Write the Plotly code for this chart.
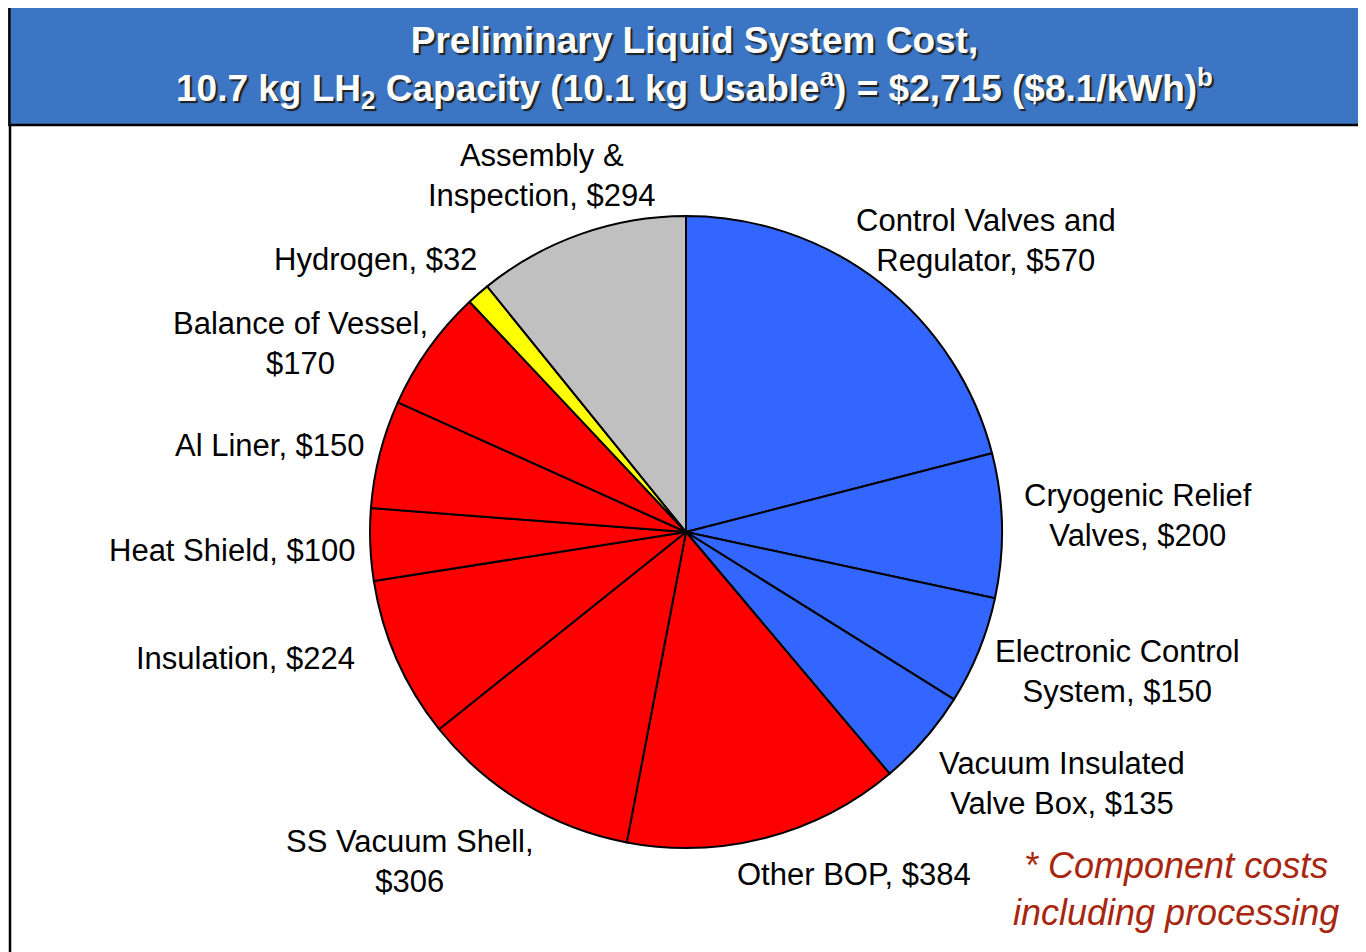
import plotly.graph_objects as go

# slice data, clockwise from 12 o'clock
components = ['Control Valves and Regulator', 'Cryogenic Relief Valves', 'Electronic Control System',
              'Vacuum Insulated Valve Box', 'Other BOP', 'SS Vacuum Shell', 'Insulation',
              'Heat Shield', 'Al Liner', 'Balance of Vessel', 'Hydrogen', 'Assembly & Inspection']
costs = [570, 200, 150, 135, 384, 306, 224, 100, 150, 170, 32, 294]
groups = ['bop', 'bop', 'bop', 'bop', 'vessel', 'vessel', 'vessel',
          'vessel', 'vessel', 'vessel', 'h2', 'assembly']

label_text = ['Control Valves and<br>Regulator, $570', 'Cryogenic Relief<br>Valves, $200',
              'Electronic Control<br>System, $150', 'Vacuum Insulated<br>Valve Box, $135',
              'Other BOP, $384', 'SS Vacuum Shell,<br>$306', 'Insulation, $224',
              'Heat Shield, $100', 'Al Liner, $150', 'Balance of Vessel,<br>$170',
              'Hydrogen, $32', 'Assembly &<br>Inspection, $294']

# label centres in page pixels (layout only)
label_pos = [(986, 240), (1138, 515), (1117, 671), (1062, 783), (854, 874), (410, 861),
             (245, 658), (232, 550), (270, 446), (300, 343), (375, 260), (542, 175)]

W, H = 1366, 952
OFF = 8  # page body margin
group_colors = {'bop': '#3366FF', 'vessel': '#FF0000', 'h2': '#FFFF00', 'assembly': '#C0C0C0'}
FONT = 'Liberation Sans, Arial'


def px(x, y):
    # page pixel -> paper coords
    return (x - OFF) / W, 1 - (y - OFF) / H


cx, cy, r = 686, 532, 316
x0, y1 = px(cx - r, cy - r)
x1, y0 = px(cx + r, cy + r)

fig = go.Figure(go.Pie(
    labels=components,
    values=costs,
    sort=False,
    direction='clockwise',
    rotation=0,
    textinfo='none',
    hoverinfo='label+value',
    marker=dict(colors=[group_colors[g] for g in groups], line=dict(color='black', width=2)),
    domain=dict(x=[x0, x1], y=[y0, y1]),
    showlegend=False,
))

for txt, (x, y) in zip(label_text, label_pos):
    ax, ay = px(x, y)
    fig.add_annotation(x=ax, y=ay, xref='paper', yref='paper', text=txt, showarrow=False,
                       font=dict(family=FONT, size=31, color='black'),
                       align='center', xanchor='center', yanchor='middle')

# title bar
bx0, by1 = px(8, 4)
_, by0 = px(0, 125)
fig.add_shape(type='rect', xref='paper', yref='paper', x0=bx0 + 0.001, x1=1.01, y0=by0, y1=by1,
              fillcolor='#3B75C4', line=dict(color='black', width=2.5))
lx, _ = px(10, 0)
fig.add_shape(type='line', xref='paper', yref='paper', x0=lx, x1=lx, y0=-0.01, y1=by0,
              line=dict(color='black', width=2.5))

tx, ty = px(695, 67)
fig.add_annotation(x=tx, y=ty, xref='paper', yref='paper', showarrow=False,
                   text='<b>Preliminary Liquid System Cost,<br>10.7 kg LH<sub>2</sub> Capacity '
                        '(10.1 kg Usable<sup>a</sup>) = $2,715 ($8.1/kWh)<sup>b</sup></b>',
                   font=dict(family=FONT, size=37, color='white',
                             shadow='2px 2px 1px #202020'),
                   align='center', xanchor='center', yanchor='middle')

fx, fy = px(1176, 889)
fig.add_annotation(x=fx, y=fy, xref='paper', yref='paper', showarrow=False,
                   text='<i>* Component costs<br>including processing</i>',
                   font=dict(family=FONT, size=36, color='#A8260E'),
                   align='center', xanchor='center', yanchor='middle')

fig.update_layout(width=W, height=H, margin=dict(l=0, r=0, t=0, b=0),
                  paper_bgcolor='white', plot_bgcolor='white')

fig.write_html("out.html")
